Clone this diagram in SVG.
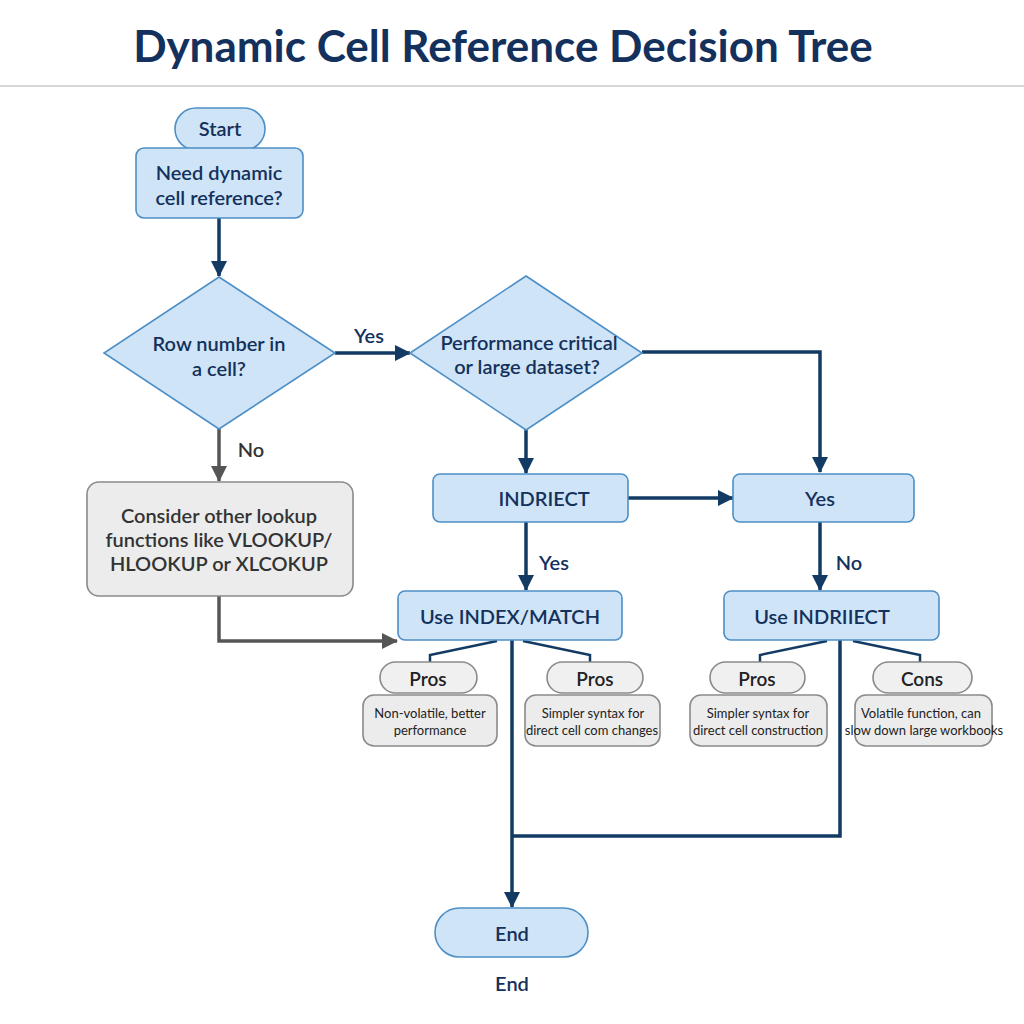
<svg xmlns="http://www.w3.org/2000/svg" width="1024" height="1024" viewBox="0 0 1024 1024">
<style>
text{font-family:Lato,"Noto Sans","Liberation Sans",sans-serif;text-anchor:middle;dominant-baseline:central;}
.t{font-size:44px;font-weight:700;fill:#13315c;}
.n{fill:#cfe4f6;stroke:#4d8fc6;stroke-width:1.6;}
.g{fill:#ececec;stroke:#8a8a8a;stroke-width:1.6;}
.p{fill:#f0f0f0;stroke:#8a8a8a;stroke-width:1.6;}
.lb{font-size:20px;font-weight:600;fill:#13315c;}
.gl{font-size:20px;font-weight:600;fill:#333;}
.pl{font-size:19px;font-weight:600;fill:#222;}
.dl{font-size:13px;fill:#222;}
.c{fill:none;stroke:#123a63;stroke-width:3.5;}
.cg{fill:none;stroke:#555;stroke-width:3.5;}
.thin{fill:none;stroke:#123a63;stroke-width:2.5;}
</style>
<defs>
<marker id="a" markerUnits="userSpaceOnUse" markerWidth="16" markerHeight="16" viewBox="0 0 16 16" refX="15" refY="8" orient="auto"><path d="M0,0 L16,8 L0,16 Z" fill="#123a63"/></marker>
<marker id="ag" markerUnits="userSpaceOnUse" markerWidth="16" markerHeight="16" viewBox="0 0 16 16" refX="15" refY="8" orient="auto"><path d="M0,0 L16,8 L0,16 Z" fill="#555"/></marker>
</defs>
<rect width="1024" height="1024" fill="#ffffff"/>
<text class="t" x="503" y="45">Dynamic Cell Reference Decision Tree</text>
<line x1="0" y1="86" x2="1024" y2="86" stroke="#d6d6d6" stroke-width="2"/>

<g id="connectors">
<path class="c" d="M219,218 V276" marker-end="url(#a)"/>
<path class="c" d="M335,353 H410" marker-end="url(#a)"/>
<text class="lb" x="369" y="335">Yes</text>
<path class="c" d="M642,352 H820 V472" marker-end="url(#a)"/>
<path class="c" d="M526,430 V473" marker-end="url(#a)"/>
<path class="c" d="M628,498 H733" marker-end="url(#a)"/>
<path class="c" d="M526,522 V590" marker-end="url(#a)"/>
<text class="lb" x="554" y="562">Yes</text>
<path class="c" d="M820,522 V590" marker-end="url(#a)"/>
<text class="lb" x="849" y="562">No</text>
<path class="cg" d="M219,429 V481" marker-end="url(#ag)"/>
<text class="gl" x="251" y="449">No</text>
<path class="cg" d="M219,596 V641 H397" marker-end="url(#ag)"/>
<path class="thin" d="M497,641 L430,655 V662"/>
<path class="thin" d="M523,641 L590,655 V662"/>
<path class="thin" d="M827,641 L760,655 V662"/>
<path class="thin" d="M853,641 L920,655 V662"/>
<path class="c" d="M840,640 V836 H512"/>
<path class="c" d="M512,640 V907" marker-end="url(#a)"/>
</g>

<g id="start">
<rect class="n" x="175" y="108" width="90" height="42" rx="21"/>
<text class="lb" x="220" y="128">Start</text>
</g>
<g id="need">
<rect class="n" x="136" y="148" width="167" height="70" rx="8"/>
<text class="lb" x="219" y="172">Need dynamic</text>
<text class="lb" x="219" y="197">cell reference?</text>
</g>
<g id="row">
<polygon class="n" points="219,277 335,353 219,429 104,353"/>
<text class="lb" x="219" y="343">Row number in</text>
<text class="lb" x="219" y="368">a cell?</text>
</g>
<g id="perf">
<polygon class="n" points="526,276 642,353 526,430 410,353"/>
<text class="lb" x="529" y="342">Performance critical</text>
<text class="lb" x="527" y="366">or large dataset?</text>
</g>
<g id="consider">
<rect class="g" x="87" y="482" width="266" height="114" rx="12"/>
<text class="gl" x="219" y="515">Consider other lookup</text>
<text class="gl" x="219" y="539">functions like VLOOKUP/</text>
<text class="gl" x="219" y="563">HLOOKUP or XLCOKUP</text>
</g>
<g id="indriect">
<rect class="n" x="433" y="474" width="195" height="48" rx="7"/>
<text class="lb" x="544" y="498">INDRIECT</text>
</g>
<g id="yesbox">
<rect class="n" x="733" y="474" width="181" height="48" rx="7"/>
<text class="lb" x="820" y="498">Yes</text>
</g>
<g id="indexmatch">
<rect class="n" x="398" y="591" width="224" height="49" rx="7"/>
<text class="lb" x="510" y="616">Use INDEX/MATCH</text>
</g>
<g id="useindriiect">
<rect class="n" x="724" y="591" width="215" height="49" rx="7"/>
<text class="lb" x="822" y="616">Use INDRIIECT</text>
</g>
<g id="pros1">
<rect class="g" x="363" y="695" width="134" height="51" rx="11"/>
<rect class="p" x="380" y="662" width="97" height="31" rx="15.5"/>
<text class="pl" x="428" y="678">Pros</text>
<text class="dl" x="430" y="713">Non-volatile, better</text>
<text class="dl" x="430" y="730">performance</text>
</g>
<g id="pros2">
<rect class="g" x="525" y="695" width="135" height="51" rx="11"/>
<rect class="p" x="547" y="662" width="96" height="31" rx="15.5"/>
<text class="pl" x="595" y="678">Pros</text>
<text class="dl" x="593" y="713">Simpler syntax for</text>
<text class="dl" x="592" y="730">direct cell com changes</text>
</g>
<g id="pros3">
<rect class="g" x="690" y="695" width="137" height="51" rx="11"/>
<rect class="p" x="710" y="662" width="95" height="31" rx="15.5"/>
<text class="pl" x="757" y="678">Pros</text>
<text class="dl" x="758" y="713">Simpler syntax for</text>
<text class="dl" x="758" y="730">direct cell construction</text>
</g>
<g id="cons">
<rect class="g" x="855" y="695" width="137" height="51" rx="11"/>
<rect class="p" x="873" y="662" width="99" height="31" rx="15.5"/>
<text class="pl" x="922" y="678">Cons</text>
<text class="dl" x="921" y="713">Volatile function, can</text>
<text class="dl" x="924" y="730">slow down large workbooks</text>
</g>
<g id="end">
<rect class="n" x="435" y="908" width="153" height="49" rx="24.5"/>
<text class="lb" x="512" y="933">End</text>
</g>
<text class="lb" x="512" y="983">End</text>
</svg>
